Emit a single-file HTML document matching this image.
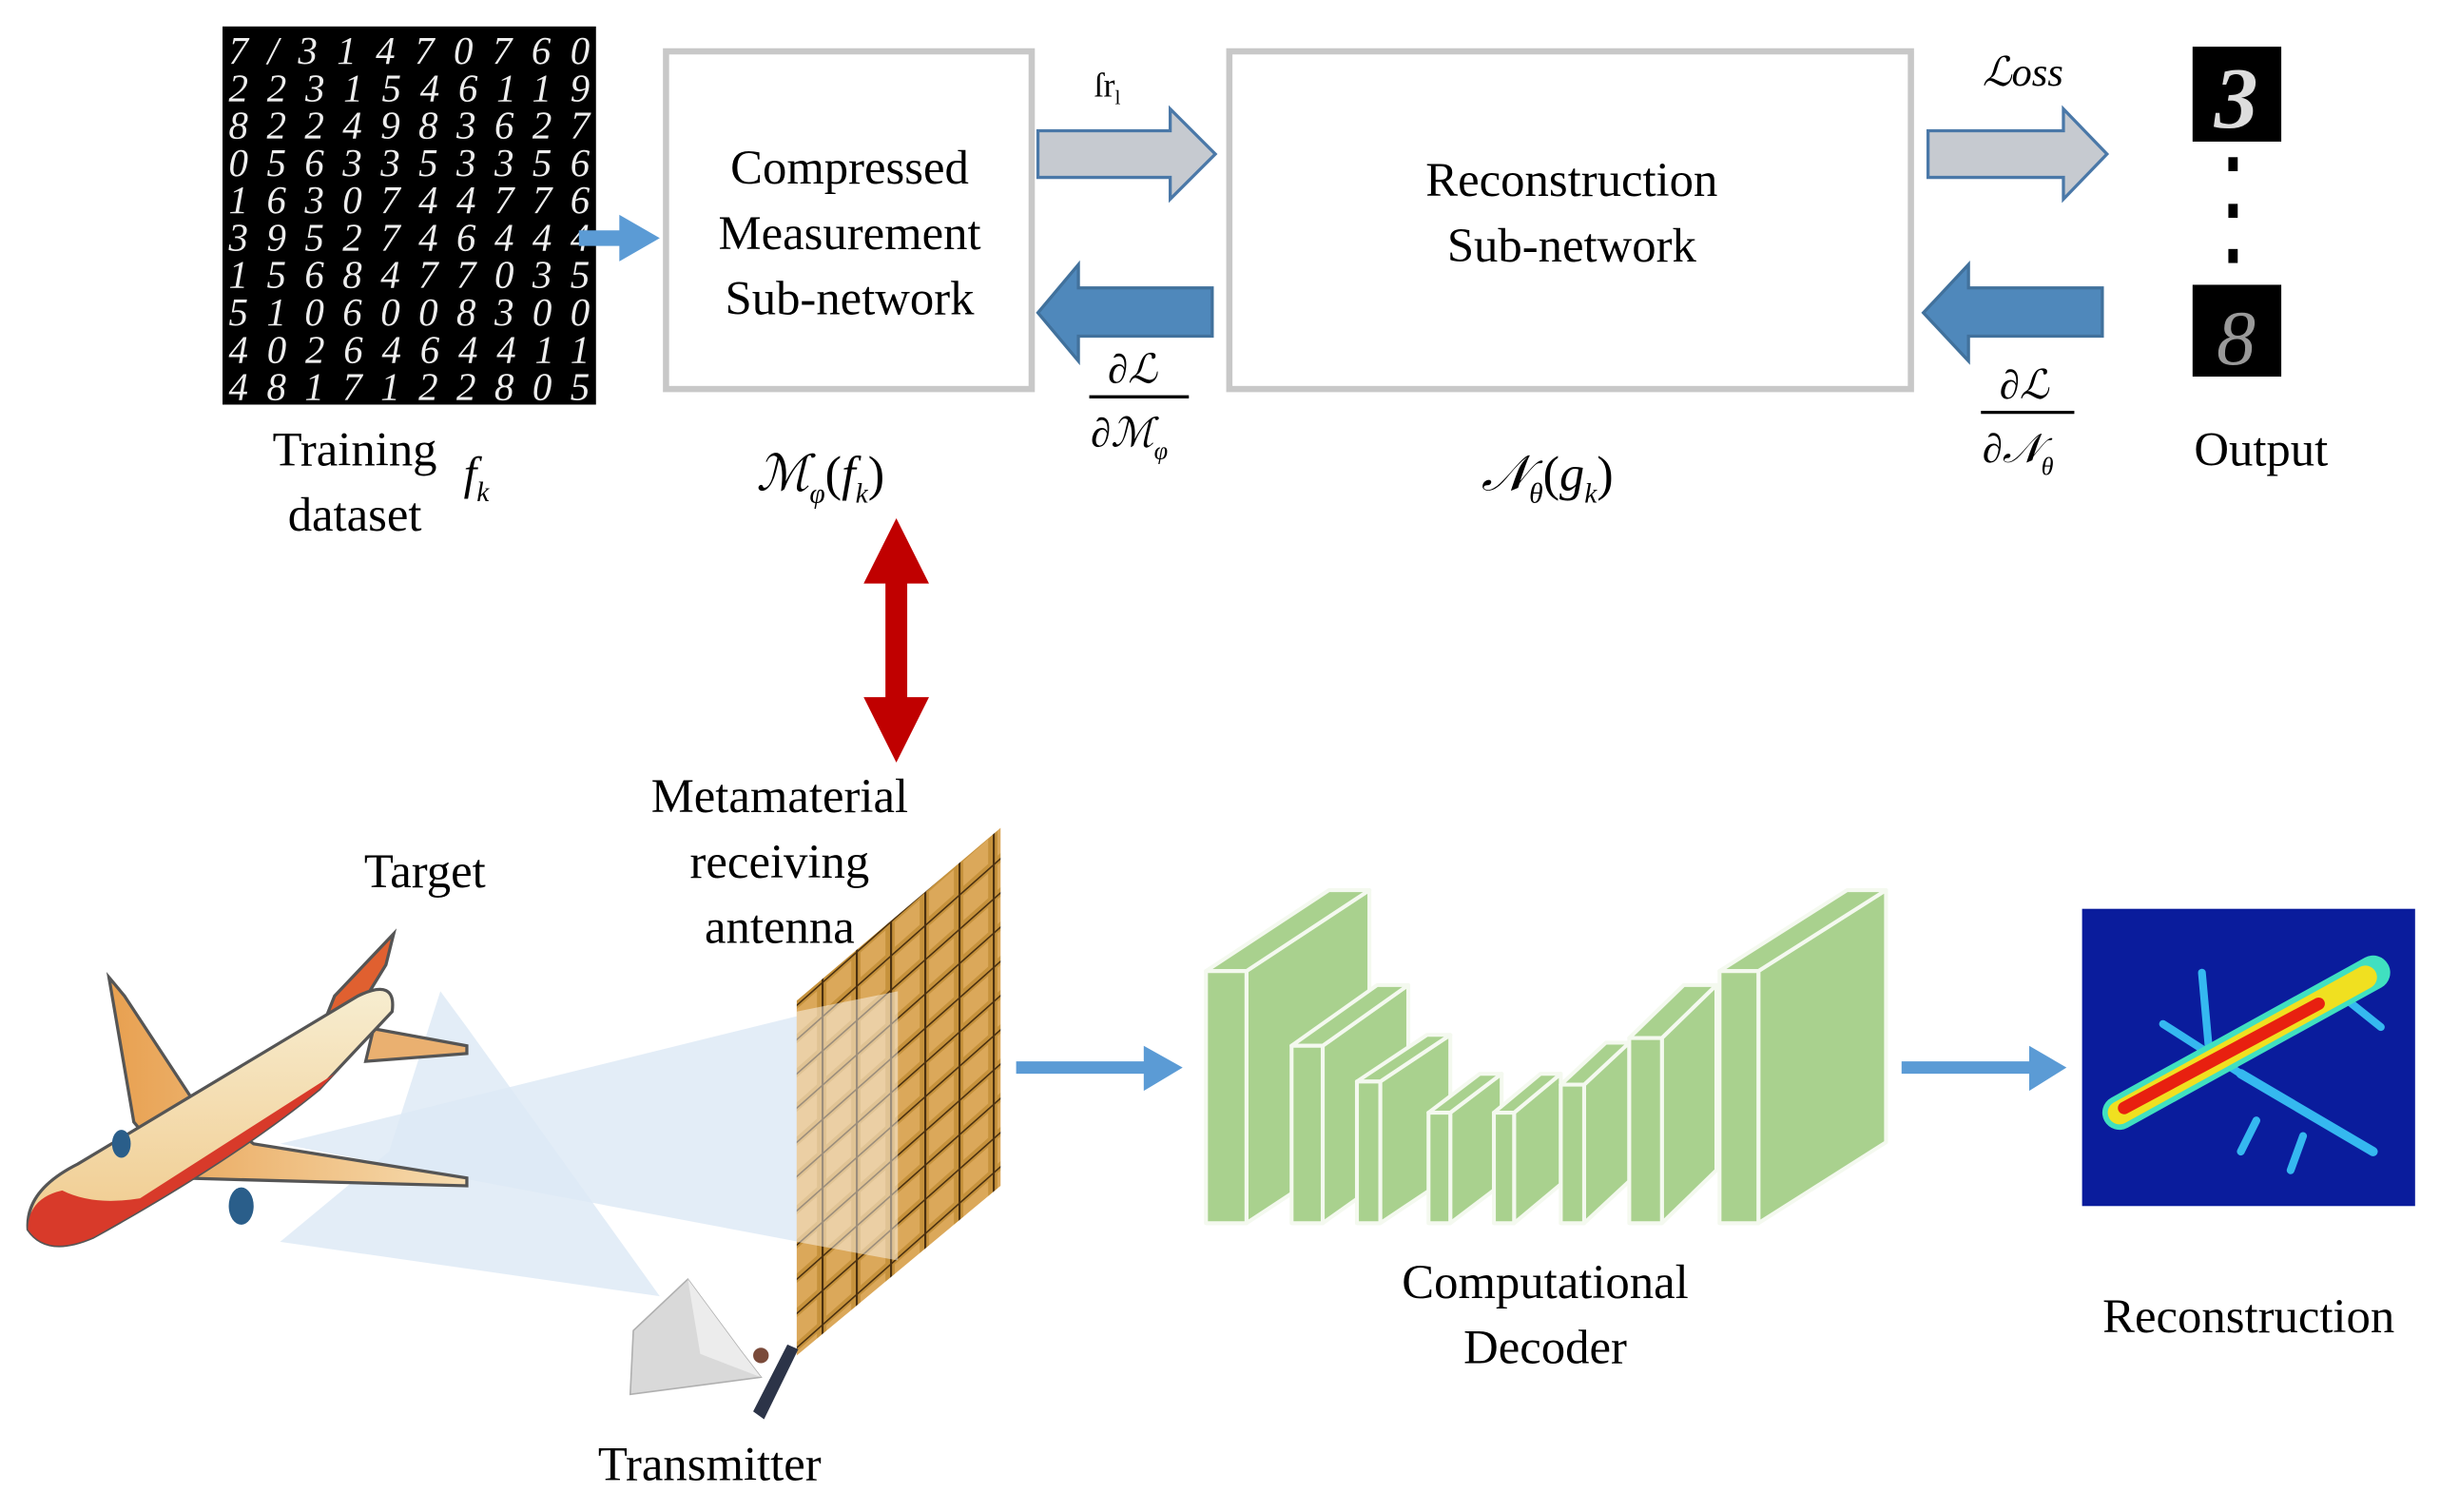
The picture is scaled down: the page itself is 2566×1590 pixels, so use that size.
<!DOCTYPE html>
<html><head><meta charset="utf-8"><style>
html,body{margin:0;padding:0;background:#fff;}
svg{display:block;}
text{font-family:"Liberation Serif",serif;fill:#000;}
.t{font-size:31px;text-anchor:middle;}
.m{font-style:italic;}
</style></head><body>
<svg width="2566" height="1590" viewBox="0 0 1568 971.6" preserveAspectRatio="none" xmlns="http://www.w3.org/2000/svg">
<defs>
<linearGradient id="fus" x1="0" y1="0" x2="0" y2="1"><stop offset="0" stop-color="#f7edd0"/><stop offset="1" stop-color="#f0c98a"/></linearGradient>
<linearGradient id="wing" x1="0" y1="0" x2="1" y2="0"><stop offset="0" stop-color="#e8a050"/><stop offset="1" stop-color="#f6dcb0"/></linearGradient>
<pattern id="grid" x="0" y="0" width="22" height="22" patternUnits="userSpaceOnUse" patternTransform="skewY(-41.6)">
<rect width="22" height="22" fill="#c6923c"/><rect x="3" y="3" width="16" height="16" fill="#dba85a"/>
<path d="M0 0H22M0 0V22" stroke="#4a3010" stroke-width="2.5"/></pattern>
</defs>

<!-- MNIST -->
<rect x="143" y="17" width="240" height="243" fill="#000"/>
<g font-style="italic" font-size="25" style="fill:#eee">
<text x="147" y="41" textLength="232" lengthAdjust="spacing" style="fill:#eee">7/31470760</text>
<text x="147" y="65" textLength="232" lengthAdjust="spacing" style="fill:#eee">2231546119</text>
<text x="147" y="89" textLength="232" lengthAdjust="spacing" style="fill:#eee">8224983627</text>
<text x="147" y="113" textLength="232" lengthAdjust="spacing" style="fill:#eee">0563353356</text>
<text x="147" y="137" textLength="232" lengthAdjust="spacing" style="fill:#eee">1630744776</text>
<text x="147" y="161" textLength="232" lengthAdjust="spacing" style="fill:#eee">3952746444</text>
<text x="147" y="185" textLength="232" lengthAdjust="spacing" style="fill:#eee">1568477035</text>
<text x="147" y="209" textLength="232" lengthAdjust="spacing" style="fill:#eee">5106008300</text>
<text x="147" y="233" textLength="232" lengthAdjust="spacing" style="fill:#eee">4026464411</text>
<text x="147" y="257" textLength="232" lengthAdjust="spacing" style="fill:#eee">4817122805</text>
</g>

<!-- small blue arrow -->
<path d="M372 148 H398 V138 L424 153 L398 168 V158 H372 Z" fill="#5b9bd5"/>

<!-- box 1 -->
<rect x="428" y="33" width="235" height="217" fill="#fff" stroke="#c8c8c8" stroke-width="4"/>
<text class="t" x="546" y="118">Compressed</text>
<text class="t" x="546" y="160">Measurement</text>
<text class="t" x="546" y="202">Sub-network</text>

<!-- box 2 -->
<rect x="790" y="33" width="438" height="217" fill="#fff" stroke="#c8c8c8" stroke-width="4"/>
<text class="t" x="1010" y="126">Reconstruction</text>
<text class="t" x="1010" y="168">Sub-network</text>

<!-- gray arrows -->
<path d="M667 84 H752 V70 L781 99 L752 128 V114 H667 Z" fill="#c6cad0" stroke="#4a78a8" stroke-width="2"/>
<path d="M1239 84 H1326 V70 L1354 99 L1326 128 V114 H1239 Z" fill="#c6cad0" stroke="#4a78a8" stroke-width="2"/>
<!-- blue arrows -->
<path d="M779 185 H693 V170 L667 201 L693 232 V216 H779 Z" fill="#4f88bb" stroke="#41719c" stroke-width="2"/>
<path d="M1351 185 H1265 V170 L1236 201 L1265 232 V216 H1351 Z" fill="#4f88bb" stroke="#41719c" stroke-width="2"/>

<!-- labels -->
<text x="703" y="62" font-size="22">ſr<tspan font-size="13" dy="5">l</tspan></text>
<text x="1274" y="55" font-size="26" class="m">ℒoss</text>
<text x="712" y="246" font-size="26" class="m">∂ℒ</text>
<line x1="700" y1="255" x2="764" y2="255" stroke="#000" stroke-width="2"/>
<text x="701" y="287" font-size="26" class="m">∂ℳ<tspan font-size="16" dy="8">φ</tspan></text>
<text x="1285" y="256" font-size="26" class="m">∂ℒ</text>
<line x1="1273" y1="265" x2="1333" y2="265" stroke="#000" stroke-width="2"/>
<text x="1274" y="297" font-size="26" class="m">∂𝒩<tspan font-size="16" dy="8">θ</tspan></text>

<text class="t" x="228" y="299">Training</text>
<text class="t" x="228" y="341">dataset</text>
<text x="298" y="314" font-size="30" class="m">f<tspan font-size="18" dy="8">k</tspan></text>
<text x="486" y="315" font-size="32" class="m">ℳ<tspan font-size="18" dy="8">φ</tspan><tspan dy="-8" font-style="normal">(</tspan>f<tspan font-size="18" dy="8">k</tspan><tspan dy="-8" font-style="normal">)</tspan></text>
<text x="952" y="315" font-size="32" class="m">𝒩<tspan font-size="18" dy="8">θ</tspan><tspan dy="-8" font-style="normal">(</tspan>g<tspan font-size="18" dy="8">k</tspan><tspan dy="-8" font-style="normal">)</tspan></text>

<!-- output digits -->
<rect x="1409" y="30" width="57" height="61" fill="#000"/>
<text x="1437" y="82" font-size="56" font-weight="bold" font-style="italic" text-anchor="middle" style="fill:#ddd">3</text>
<rect x="1432" y="101" width="6" height="9" fill="#000"/>
<rect x="1432" y="131" width="6" height="9" fill="#000"/>
<rect x="1432" y="160" width="6" height="9" fill="#000"/>
<rect x="1409" y="183" width="57" height="59" fill="#000"/>
<text x="1437" y="234" font-size="50" font-style="italic" text-anchor="middle" style="fill:#999">8</text>
<text class="t" x="1453" y="299">Output</text>

<!-- red double arrow -->
<path d="M576 333 L597 375 H583 V448 H597 L576 490 L555 448 H569 V375 H555 Z" fill="#c00000"/>

<!-- labels bottom -->
<text class="t" x="501" y="522">Metamaterial</text>
<text class="t" x="501" y="564">receiving</text>
<text class="t" x="501" y="606">antenna</text>
<text class="t" x="273" y="570">Target</text>
<text class="t" x="456" y="951">Transmitter</text>
<text class="t" x="993" y="834">Computational</text>
<text class="t" x="993" y="876">Decoder</text>
<text class="t" x="1445" y="856">Reconstruction</text>

<!-- beams -->
<polygon points="283,637 300,660 424,833 180,798 250,740" fill="#dce8f5" opacity="0.8"/>
<polygon points="180,735 577,637 577,810" fill="#dce8f5" opacity="0.8"/>

<!-- antenna -->
<polygon points="512,643 643,532 643,762 512,871" fill="url(#grid)"/>
<polygon points="512,650 577,637 577,810 512,798" fill="#fff" opacity="0.45"/>

<!-- transmitter -->
<polygon points="442,822 407,855 405,896 489,885 476,868" fill="#d9d9d9" stroke="#b0b0b0"/>
<polygon points="442,822 476,868 489,885 450,870" fill="#ececec"/>
<polygon points="506,864 513,867 491,912 484,907" fill="#2c3448"/>
<circle cx="489" cy="871" r="5" fill="#7a4a3a"/>

<!-- plane -->
<polygon points="70,628 80,640 124,707 163,735 300,757 300,762 116,757 86,721" fill="url(#wing)" stroke="#555" stroke-width="2"/>
<polygon points="253,600 248,620 205,690 195,690 215,640" fill="#e06030" stroke="#555" stroke-width="2"/>
<polygon points="240,661 300,672 300,677 235,682" fill="#eab070" stroke="#555" stroke-width="2"/>
<path d="M18 790 Q16 765 50 748 L230 640 Q255 628 252 650 L205 700 Q150 745 60 795 Q30 808 18 790 Z" fill="url(#fus)" stroke="#555" stroke-width="2"/>
<path d="M18 790 Q18 770 40 765 Q60 775 90 770 L215 690 L205 700 Q150 745 60 795 Q30 808 18 790 Z" fill="#d83a2a"/>
<ellipse cx="155" cy="775" rx="8" ry="12" fill="#2a5e8a"/>
<ellipse cx="78" cy="735" rx="6" ry="9" fill="#2a5e8a"/>

<!-- blue arrows bottom -->
<path d="M653 682 H735 V672 L760 686 L735 701 V690 H653 Z" fill="#5b9bd5"/>
<path d="M1222 682 H1304 V672 L1328 686 L1304 701 V690 H1222 Z" fill="#5b9bd5"/>

<!-- decoder blocks -->
<g fill="#a9d18e" stroke="#f4f9ef" stroke-width="2.5" stroke-linejoin="round">
<g><polygon points="801,624 880,572 880,734 801,786"/><polygon points="775,624 801,624 880,572 854,572"/><rect x="775" y="624" width="26" height="162"/></g>
<g><polygon points="850,672 905,633 905,747 850,786"/><polygon points="830,672 850,672 905,633 885,633"/><rect x="830" y="672" width="20" height="114"/></g>
<g><polygon points="887,695 932,665 932,756 887,786"/><polygon points="872,695 887,695 932,665 917,665"/><rect x="872" y="695" width="15" height="91"/></g>
<g><polygon points="932,715 965,690 965,761 932,786"/><polygon points="918,715 932,715 965,690 951,690"/><rect x="918" y="715" width="14" height="71"/></g>
<g><polygon points="973,715 1003,690 1003,761 973,786"/><polygon points="960,715 973,715 1003,690 990,690"/><rect x="960" y="715" width="13" height="71"/></g>
<g><polygon points="1018,697 1047,670 1047,759 1018,786"/><polygon points="1003,697 1018,697 1047,670 1032,670"/><rect x="1003" y="697" width="15" height="89"/></g>
<g><polygon points="1068,667 1103,633 1103,752 1068,786"/><polygon points="1047,667 1068,667 1103,633 1082,633"/><rect x="1047" y="667" width="21" height="119"/></g>
<g><polygon points="1130,624 1212,572 1212,734 1130,786"/><polygon points="1105,624 1130,624 1212,572 1187,572"/><rect x="1105" y="624" width="25" height="162"/></g>
</g>

<!-- reconstruction image -->
<rect x="1338" y="584" width="214" height="191" fill="#0a1c9c"/>
<g stroke-linecap="round" fill="none">
<path d="M1415 625 L1420 680" stroke="#35b8f0" stroke-width="5"/>
<path d="M1390 658 L1440 690" stroke="#35b8f0" stroke-width="5"/>
<path d="M1505 640 L1530 660" stroke="#35b8f0" stroke-width="5"/>
<path d="M1440 690 L1525 740" stroke="#35b8f0" stroke-width="6"/>
<path d="M1450 720 L1440 740 M1480 730 L1472 752" stroke="#35b8f0" stroke-width="5"/>
<path d="M1362 715 L1525 625" stroke="#40e0c0" stroke-width="22"/>
<path d="M1362 715 L1520 628" stroke="#f0e020" stroke-width="15"/>
<path d="M1365 712 L1490 645" stroke="#e82010" stroke-width="8"/>
</g>
</svg>
</body></html>
